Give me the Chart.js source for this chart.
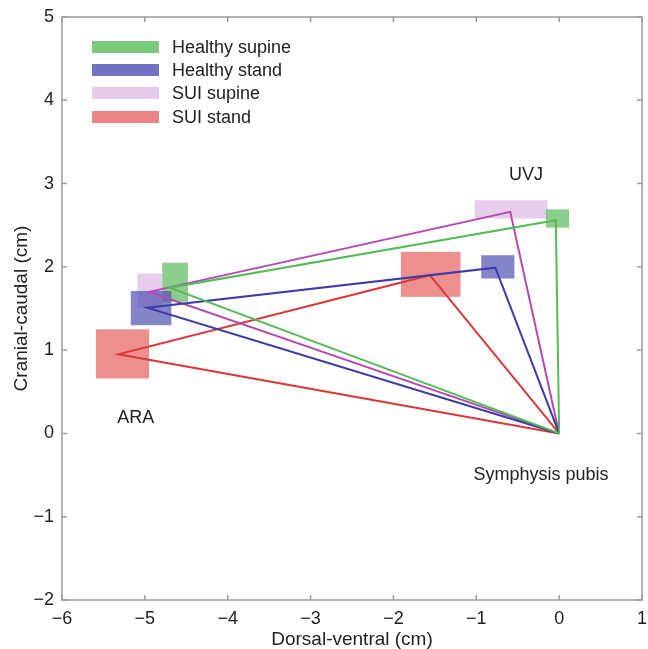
<!DOCTYPE html>
<html>
<head>
<meta charset="utf-8">
<script src="https://cdn.jsdelivr.net/npm/chart.js@4/dist/chart.umd.min.js"></script>
<style>
  html,body{margin:0;padding:0;background:#fff;}
  #wrap{width:648px;height:649px;}
</style>
</head>
<body>
<div id="wrap"><canvas id="c" width="648" height="649"></canvas></div>
<script>
// Data (cm)
const groups = ["Healthy supine","Healthy stand","SUI supine","SUI stand"];
const lineColors = ["#55bb55","#3c3ca6","#b448b4","#d83a3a"];
const boxColors = ["rgba(96,186,96,0.72)","rgba(84,84,180,0.72)","rgba(214,174,222,0.6)","rgba(232,100,100,0.72)"];
const legendColors = ["#7ccb7c","#7272c4","#e4cae9","#ec8484"];

const spX = [0, 0, 0, 0];
const spY = [0, 0, 0, 0];
const uvjX = [-0.04, -0.77, -0.59, -1.56];
const uvjY = [2.56, 1.99, 2.66, 1.90];
const araX = [-4.70, -4.97, -4.95, -5.32];
const araY = [1.75, 1.51, 1.70, 0.95];

// spread boxes [min,max]
const uvjBoxX = [[-0.16, 0.12], [-0.94, -0.54], [-1.02, -0.14], [-1.91, -1.19]];
const uvjBoxY = [[2.47, 2.69], [1.86, 2.14], [2.58, 2.80], [1.64, 2.18]];
const araBoxX = [[-4.79, -4.48], [-5.17, -4.68], [-5.09, -4.79], [-5.59, -4.95]];
const araBoxY = [[1.58, 2.05], [1.30, 1.71], [1.51, 1.92], [0.66, 1.25]];

const xTicks = [-6, -5, -4, -3, -2, -1, 0, 1];
const yTicks = [-2, -1, 0, 1, 2, 3, 4, 5];

// text annotations [label, x, y]
const notes = [["UVJ", -0.40, 3.10], ["ARA", -5.11, 0.19], ["Symphysis pubis", -0.22, -0.50]];
const boxOrder = [2, 0, 1, 3];

const FONT = "'Liberation Sans', Arial, Helvetica, sans-serif";
Chart.defaults.font.family = FONT;
Chart.defaults.color = "#222";

const datasets = groups.map((g, i) => ({
  label: g,
  data: [
    {x: spX[i], y: spY[i]},
    {x: uvjX[i], y: uvjY[i]},
    {x: araX[i], y: araY[i]},
    {x: spX[i], y: spY[i]}
  ],
  showLine: true,
  borderColor: lineColors[i],
  borderWidth: 2,
  pointRadius: 0,
  tension: 0,
  fill: false
}));

const minus = v => String(v).replace("-", "\u2212");

const deco = {
  id: "deco",
  beforeDatasetsDraw(chart){
    const {ctx, scales:{x, y}} = chart;
    ctx.save();
    boxOrder.forEach(i => {
      ctx.fillStyle = boxColors[i];
      [[uvjBoxX[i], uvjBoxY[i]], [araBoxX[i], araBoxY[i]]].forEach(([bx, by]) => {
        const x0 = x.getPixelForValue(bx[0]), x1 = x.getPixelForValue(bx[1]);
        const y0 = y.getPixelForValue(by[1]), y1 = y.getPixelForValue(by[0]);
        ctx.fillRect(x0, y0, x1 - x0, y1 - y0);
      });
    });
    ctx.restore();
  },
  afterDraw(chart){
    const {ctx, chartArea:a, scales:{x, y}} = chart;
    ctx.save();
    // frame + inward ticks
    ctx.strokeStyle = "#9a9a9a";
    ctx.lineWidth = 1.5;
    ctx.strokeRect(a.left, a.top, a.right - a.left, a.bottom - a.top);
    ctx.beginPath();
    xTicks.forEach(v => {
      const px = x.getPixelForValue(v);
      ctx.moveTo(px, a.bottom); ctx.lineTo(px, a.bottom - 5);
      ctx.moveTo(px, a.top); ctx.lineTo(px, a.top + 5);
    });
    yTicks.forEach(v => {
      const py = y.getPixelForValue(v);
      ctx.moveTo(a.left, py); ctx.lineTo(a.left + 5, py);
      ctx.moveTo(a.right, py); ctx.lineTo(a.right - 5, py);
    });
    ctx.stroke();

    // annotations
    ctx.fillStyle = "#222";
    ctx.font = "18px " + FONT;
    ctx.textAlign = "center";
    ctx.textBaseline = "middle";
    notes.forEach(([t, nx, ny]) => ctx.fillText(t, x.getPixelForValue(nx), y.getPixelForValue(ny)));

    // legend inside the axes
    ctx.textAlign = "left";
    const rows = [47, 70, 93, 117];
    groups.forEach((g, i) => {
      ctx.fillStyle = legendColors[i];
      ctx.fillRect(a.left + 30, rows[i] - 6, 67, 12);
      ctx.fillStyle = "#222";
      ctx.fillText(g, a.left + 110, rows[i] + 1);
    });
    ctx.restore();
  }
};

new Chart(document.getElementById("c"), {
  type: "scatter",
  data: {datasets},
  options: {
    responsive: false,
    animation: false,
    layout: {padding: {left: 0, right: 6, top: 17, bottom: 0}},
    plugins: {legend: {display: false}, tooltip: {enabled: false}},
    scales: {
      x: {
        type: "linear", min: -6, max: 1,
        afterBuildTicks: s => { s.ticks = xTicks.map(v => ({value: v})); },
        afterFit: s => { s.height = 49; s.paddingLeft = 0; s.paddingRight = 0; },
        grid: {display: false, drawTicks: false},
        border: {display: false},
        ticks: {font: {size: 18, lineHeight: 1}, color: "#222", padding: 10, maxRotation: 0, callback: v => minus(v)},
        title: {display: true, text: "Dorsal-ventral (cm)", font: {size: 19, lineHeight: 1}, color: "#222", padding: {top: 0, bottom: 0}}
      },
      y: {
        type: "linear", min: -2, max: 5,
        afterBuildTicks: s => { s.ticks = yTicks.map(v => ({value: v})); },
        afterFit: s => { s.width = 62; s.paddingTop = 0; s.paddingBottom = 0; },
        grid: {display: false, drawTicks: false},
        border: {display: false},
        ticks: {font: {size: 18}, color: "#222", padding: 8, callback: v => minus(v)},
        title: {display: true, text: "Cranial-caudal (cm)", font: {size: 19, lineHeight: 1}, color: "#222", padding: {top: 12, bottom: 0}}
      }
    }
  },
  plugins: [deco]
});
</script>
</body>
</html>
